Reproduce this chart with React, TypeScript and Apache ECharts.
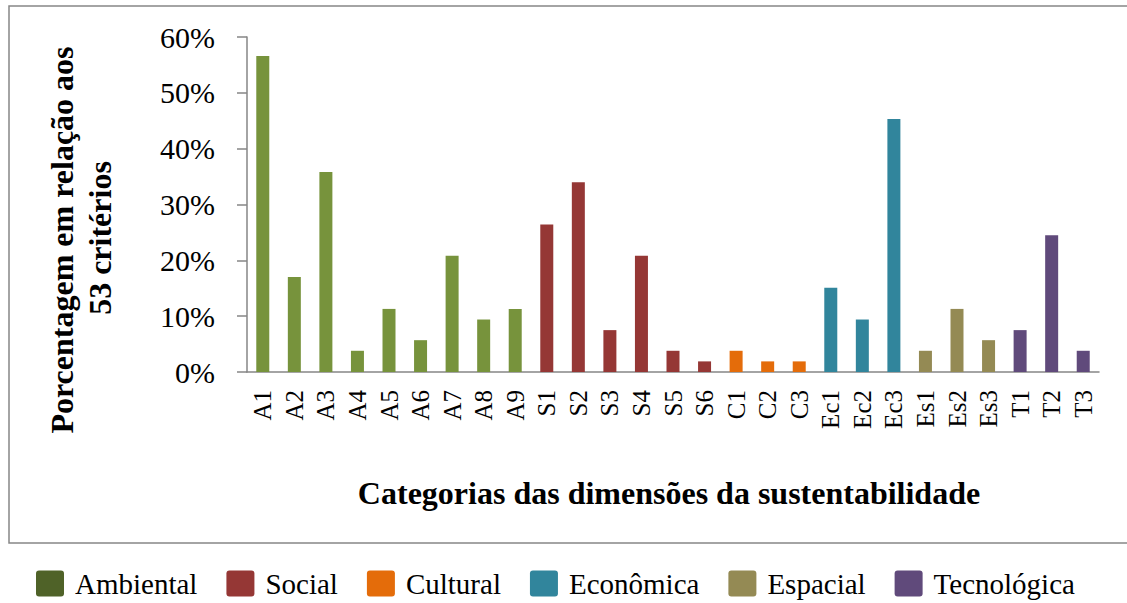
import React, { useEffect, useRef } from "react";
import * as echarts from "echarts";

const categories = ["A1","A2","A3","A4","A5","A6","A7","A8","A9","S1","S2","S3","S4","S5","S6","C1","C2","C3","Ec1","Ec2","Ec3","Es1","Es2","Es3","T1","T2","T3"];
const values = [56.6,17.0,35.8,3.8,11.3,5.7,20.8,9.4,11.3,26.4,34.0,7.5,20.8,3.8,1.9,3.8,1.9,1.9,15.1,9.4,45.3,3.8,11.3,5.7,7.5,24.5,3.8];
const groupOf = ["Ambiental","Ambiental","Ambiental","Ambiental","Ambiental","Ambiental","Ambiental","Ambiental","Ambiental","Social","Social","Social","Social","Social","Social","Cultural","Cultural","Cultural","Econômica","Econômica","Econômica","Espacial","Espacial","Espacial","Tecnológica","Tecnológica","Tecnológica"];
const groups = ["Ambiental","Social","Cultural","Econômica","Espacial","Tecnológica"];
const barColors = ["#77933C","#953735","#E46C0A","#31859C","#948A54","#604A7B"];
const legendColors = ["#4F6228","#953735","#E46C0A","#31859C","#948A54","#604A7B"];
const yTicks = [0, 10, 20, 30, 40, 50, 60];

const FONT = "Liberation Serif";
const LEGEND_ICON = "path://M3,0H25Q28,0 28,3V23Q28,26 25,26H3Q0,26 0,23V3Q0,0 3,0Z";

export default function App() {
  const ref = useRef<HTMLDivElement>(null);
  useEffect(() => {
    if (!ref.current) return;
    const chart = echarts.init(ref.current, null, { renderer: "svg" });
    const series = groups.map((g, gi) => ({
      name: g,
      type: "bar",
      stack: "all",
      barWidth: 13,
      itemStyle: { color: barColors[gi] },
      data: categories.map((_, i) => (groupOf[i] === g ? values[i] : "-")),
    }));
    const legendText = {
      fontFamily: FONT,
      fontSize: 29,
      color: "#000",
      rich: { t: { fontFamily: FONT, fontSize: 29, color: "#000", padding: [0, 0, 0, 6] } },
    };
    chart.setOption({
      animation: false,
      backgroundColor: "#ffffff",
      textStyle: { fontFamily: FONT },
      grid: { left: 247, right: 28, top: 37, bottom: 231, containLabel: false },
      legend: {
        bottom: 0,
        left: 31,
        padding: 5,
        icon: LEGEND_ICON,
        itemWidth: 28,
        itemHeight: 26,
        itemGap: 29,
        formatter: (name: string) => "{t|" + name + "}",
        textStyle: legendText,
        data: groups.map((g, gi) => ({
          name: g,
          itemStyle: { color: legendColors[gi] },
        })),
      },
      xAxis: {
        type: "category",
        data: categories,
        axisLine: { show: true, lineStyle: { color: "#868686", width: 1.5 } },
        axisTick: { show: false },
        axisLabel: {
          rotate: 90,
          interval: 0,
          margin: 18,
          fontFamily: FONT,
          fontSize: 25,
          color: "#000",
        },
      },
      yAxis: {
        type: "value",
        min: yTicks[0],
        max: yTicks[yTicks.length - 1],
        interval: 10,
        splitLine: { show: false },
        axisLine: { show: true, lineStyle: { color: "#868686", width: 1.5 } },
        axisTick: { show: true, length: 10, lineStyle: { color: "#868686", width: 1.5 } },
        axisLabel: {
          formatter: (v: number) => v + "%",
          margin: 32,
          fontFamily: FONT,
          fontSize: 30,
          color: "#000",
        },
      },
      graphic: [
        {
          type: "rect",
          shape: { x: 9, y: 6, width: 1130, height: 537 },
          style: { fill: "none", stroke: "#878787", lineWidth: 1.5 },
          silent: true,
        },
        {
          type: "text",
          x: 62,
          y: 240,
          rotation: Math.PI / 2,
          style: {
            text: "Porcentagem em relação aos",
            fontFamily: FONT,
            fontWeight: "bold",
            fontSize: 32,
            fill: "#000",
            align: "center",
            verticalAlign: "middle",
          },
        },
        {
          type: "text",
          x: 100,
          y: 238,
          rotation: Math.PI / 2,
          style: {
            text: "53 critérios",
            fontFamily: FONT,
            fontWeight: "bold",
            fontSize: 32,
            fill: "#000",
            align: "center",
            verticalAlign: "middle",
          },
        },
        {
          type: "text",
          x: 669,
          y: 493,
          style: {
            text: "Categorias das dimensões da sustentabilidade",
            fontFamily: FONT,
            fontWeight: "bold",
            fontSize: 32,
            fill: "#000",
            align: "center",
            verticalAlign: "middle",
          },
        },
      ],
      series,
    });
    return () => chart.dispose();
  }, []);
  return (
    <div
      ref={ref}
      style={{ position: "fixed", left: 0, top: 0, width: 1127, height: 603, background: "#fff" }}
    />
  );
}
